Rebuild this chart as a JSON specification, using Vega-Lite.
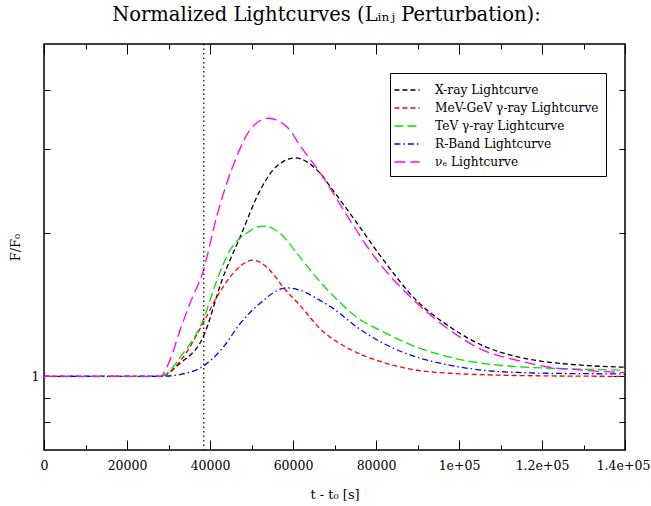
{
  "$schema": "https://vega.github.io/schema/vega-lite/v6.json",
  "width": 581,
  "height": 406,
  "autosize": {"type": "none"},
  "padding": {"left": 44, "top": 44, "right": 26, "bottom": 56},
  "config": {
    "font": "DejaVu Serif",
    "view": {"stroke": "black", "strokeWidth": 1.5},
    "axis": {"grid": false, "domain": false, "tickColor": "black", "tickWidth": 1, "labelColor": "black", "titleColor": "black", "labelFont": "DejaVu Serif", "titleFont": "DejaVu Serif", "titleFontWeight": "normal", "labelFontSize": 12.5, "titleFontSize": 13}
  },
  "title": {"text": "Normalized Lightcurves (Lᵢₙⱼ Perturbation):", "fontSize": 19.5, "font": "DejaVu Serif", "fontWeight": "normal", "offset": 18, "dx": -8, "anchor": "middle", "frame": "group", "color": "black"},
  "data": {"values": [
    {"series": "X-ray Lightcurve", "t": 0, "F": 1.0},
    {"series": "X-ray Lightcurve", "t": 28000, "F": 1.0},
    {"series": "X-ray Lightcurve", "t": 32776, "F": 1.065},
    {"series": "X-ray Lightcurve", "t": 38320, "F": 1.208},
    {"series": "X-ray Lightcurve", "t": 43140, "F": 1.616},
    {"series": "X-ray Lightcurve", "t": 47240, "F": 1.962},
    {"series": "X-ray Lightcurve", "t": 52060, "F": 2.46},
    {"series": "X-ray Lightcurve", "t": 55190, "F": 2.715},
    {"series": "X-ray Lightcurve", "t": 60500, "F": 2.88},
    {"series": "X-ray Lightcurve", "t": 65800, "F": 2.715},
    {"series": "X-ray Lightcurve", "t": 69650, "F": 2.46},
    {"series": "X-ray Lightcurve", "t": 75430, "F": 2.1},
    {"series": "X-ray Lightcurve", "t": 81300, "F": 1.78},
    {"series": "X-ray Lightcurve", "t": 89900, "F": 1.44},
    {"series": "X-ray Lightcurve", "t": 97850, "F": 1.27},
    {"series": "X-ray Lightcurve", "t": 105800, "F": 1.16},
    {"series": "X-ray Lightcurve", "t": 114000, "F": 1.1},
    {"series": "X-ray Lightcurve", "t": 122000, "F": 1.07},
    {"series": "X-ray Lightcurve", "t": 130000, "F": 1.055},
    {"series": "X-ray Lightcurve", "t": 140000, "F": 1.045},
    {"series": "MeV-GeV γ-ray Lightcurve", "t": 0, "F": 1.0},
    {"series": "MeV-GeV γ-ray Lightcurve", "t": 28000, "F": 1.0},
    {"series": "MeV-GeV γ-ray Lightcurve", "t": 33500, "F": 1.097},
    {"series": "MeV-GeV γ-ray Lightcurve", "t": 38320, "F": 1.293},
    {"series": "MeV-GeV γ-ray Lightcurve", "t": 41620, "F": 1.467},
    {"series": "MeV-GeV γ-ray Lightcurve", "t": 44800, "F": 1.616},
    {"series": "MeV-GeV γ-ray Lightcurve", "t": 50400, "F": 1.755},
    {"series": "MeV-GeV γ-ray Lightcurve", "t": 54500, "F": 1.67},
    {"series": "MeV-GeV γ-ray Lightcurve", "t": 57600, "F": 1.54},
    {"series": "MeV-GeV γ-ray Lightcurve", "t": 61700, "F": 1.41},
    {"series": "MeV-GeV γ-ray Lightcurve", "t": 66500, "F": 1.26},
    {"series": "MeV-GeV γ-ray Lightcurve", "t": 73750, "F": 1.14},
    {"series": "MeV-GeV γ-ray Lightcurve", "t": 80980, "F": 1.075},
    {"series": "MeV-GeV γ-ray Lightcurve", "t": 89900, "F": 1.03},
    {"series": "MeV-GeV γ-ray Lightcurve", "t": 97850, "F": 1.015},
    {"series": "MeV-GeV γ-ray Lightcurve", "t": 105800, "F": 1.008},
    {"series": "MeV-GeV γ-ray Lightcurve", "t": 114000, "F": 1.004},
    {"series": "MeV-GeV γ-ray Lightcurve", "t": 140000, "F": 1.0},
    {"series": "TeV γ-ray Lightcurve", "t": 0, "F": 1.0},
    {"series": "TeV γ-ray Lightcurve", "t": 28000, "F": 1.0},
    {"series": "TeV γ-ray Lightcurve", "t": 33500, "F": 1.118},
    {"series": "TeV γ-ray Lightcurve", "t": 38320, "F": 1.312},
    {"series": "TeV γ-ray Lightcurve", "t": 41620, "F": 1.59},
    {"series": "TeV γ-ray Lightcurve", "t": 44800, "F": 1.84},
    {"series": "TeV γ-ray Lightcurve", "t": 48850, "F": 2.0},
    {"series": "TeV γ-ray Lightcurve", "t": 52800, "F": 2.07},
    {"series": "TeV γ-ray Lightcurve", "t": 56880, "F": 2.0},
    {"series": "TeV γ-ray Lightcurve", "t": 60900, "F": 1.816},
    {"series": "TeV γ-ray Lightcurve", "t": 65720, "F": 1.61},
    {"series": "TeV γ-ray Lightcurve", "t": 71340, "F": 1.43},
    {"series": "TeV γ-ray Lightcurve", "t": 75380, "F": 1.331},
    {"series": "TeV γ-ray Lightcurve", "t": 81000, "F": 1.25},
    {"series": "TeV γ-ray Lightcurve", "t": 89900, "F": 1.151},
    {"series": "TeV γ-ray Lightcurve", "t": 97850, "F": 1.097},
    {"series": "TeV γ-ray Lightcurve", "t": 105800, "F": 1.065},
    {"series": "TeV γ-ray Lightcurve", "t": 114000, "F": 1.048},
    {"series": "TeV γ-ray Lightcurve", "t": 122000, "F": 1.04},
    {"series": "TeV γ-ray Lightcurve", "t": 130000, "F": 1.035},
    {"series": "TeV γ-ray Lightcurve", "t": 140000, "F": 1.03},
    {"series": "R-Band Lightcurve", "t": 0, "F": 1.0},
    {"series": "R-Band Lightcurve", "t": 28000, "F": 1.0},
    {"series": "R-Band Lightcurve", "t": 33000, "F": 1.01},
    {"series": "R-Band Lightcurve", "t": 38320, "F": 1.05},
    {"series": "R-Band Lightcurve", "t": 43140, "F": 1.15},
    {"series": "R-Band Lightcurve", "t": 47240, "F": 1.29},
    {"series": "R-Band Lightcurve", "t": 52060, "F": 1.425},
    {"series": "R-Band Lightcurve", "t": 58500, "F": 1.535},
    {"series": "R-Band Lightcurve", "t": 61700, "F": 1.517},
    {"series": "R-Band Lightcurve", "t": 66500, "F": 1.445},
    {"series": "R-Band Lightcurve", "t": 69650, "F": 1.39},
    {"series": "R-Band Lightcurve", "t": 75380, "F": 1.27},
    {"series": "R-Band Lightcurve", "t": 81700, "F": 1.174},
    {"series": "R-Band Lightcurve", "t": 89900, "F": 1.097},
    {"series": "R-Band Lightcurve", "t": 97850, "F": 1.055},
    {"series": "R-Band Lightcurve", "t": 105800, "F": 1.03},
    {"series": "R-Band Lightcurve", "t": 114000, "F": 1.019},
    {"series": "R-Band Lightcurve", "t": 122000, "F": 1.015},
    {"series": "R-Band Lightcurve", "t": 140000, "F": 1.012},
    {"series": "νₑ Lightcurve", "t": 0, "F": 1.0},
    {"series": "νₑ Lightcurve", "t": 28000, "F": 1.0},
    {"series": "νₑ Lightcurve", "t": 30500, "F": 1.09},
    {"series": "νₑ Lightcurve", "t": 32776, "F": 1.25},
    {"series": "νₑ Lightcurve", "t": 35186, "F": 1.425},
    {"series": "νₑ Lightcurve", "t": 38400, "F": 1.67},
    {"series": "νₑ Lightcurve", "t": 41620, "F": 2.17},
    {"series": "νₑ Lightcurve", "t": 46440, "F": 2.9},
    {"series": "νₑ Lightcurve", "t": 49650, "F": 3.3},
    {"series": "νₑ Lightcurve", "t": 54000, "F": 3.49},
    {"series": "νₑ Lightcurve", "t": 58500, "F": 3.35},
    {"series": "νₑ Lightcurve", "t": 62000, "F": 3.03},
    {"series": "νₑ Lightcurve", "t": 66800, "F": 2.66},
    {"series": "νₑ Lightcurve", "t": 73000, "F": 2.18},
    {"series": "νₑ Lightcurve", "t": 79300, "F": 1.8},
    {"series": "νₑ Lightcurve", "t": 89900, "F": 1.425},
    {"series": "νₑ Lightcurve", "t": 97850, "F": 1.25},
    {"series": "νₑ Lightcurve", "t": 105800, "F": 1.135},
    {"series": "νₑ Lightcurve", "t": 114000, "F": 1.081},
    {"series": "νₑ Lightcurve", "t": 122000, "F": 1.045},
    {"series": "νₑ Lightcurve", "t": 130000, "F": 1.03},
    {"series": "νₑ Lightcurve", "t": 140000, "F": 1.018}
  ]},
  "layer": [
    {
      "mark": {"type": "line", "strokeWidth": 1.3, "interpolate": "monotone", "clip": true},
      "encoding": {
        "x": {"field": "t", "type": "quantitative", "scale": {"domain": [0, 140000], "nice": false, "zero": false},
          "axis": {"orient": "bottom", "values": [0, 10000, 20000, 30000, 40000, 50000, 60000, 70000, 80000, 90000, 100000, 110000, 120000, 130000, 140000],
            "tickSize": {"condition": {"test": "datum.value % 20000 === 0", "value": -10}, "value": -5},
            "labelOffset": {"condition": {"test": "datum.value == 140000", "value": -2}, "value": 0},
            "labelExpr": "datum.value % 20000 !== 0 ? '' : datum.value == 100000 ? '1e+05' : datum.value == 120000 ? '1.2e+05' : datum.value == 140000 ? '1.4e+05' : format(datum.value, 'd')",
            "labelPadding": 19, "labelFlush": false, "labelOverlap": false, "title": "t - t₀ [s]", "titlePadding": 12}},
        "y": {"field": "F", "type": "quantitative", "scale": {"type": "log", "domain": [0.7, 5], "nice": false, "zero": false},
          "axis": {"orient": "left", "values": [0.8, 0.9, 1, 2, 3, 4],
            "tickSize": {"condition": {"test": "datum.value == 1", "value": -12}, "value": -6},
            "labelExpr": "datum.value == 1 ? '1' : ''", "labelPadding": 17, "labelOverlap": false, "title": "F/F₀", "titlePadding": 9}},
        "color": {"field": "series", "type": "nominal",
          "scale": {"domain": ["X-ray Lightcurve", "MeV-GeV γ-ray Lightcurve", "TeV γ-ray Lightcurve", "R-Band Lightcurve", "νₑ Lightcurve"], "range": ["#000000", "#ff0000", "#00e000", "#0000ff", "#ff00ff"]},
          "legend": {"orient": "none", "legendX": 346, "legendY": 29, "title": null, "symbolType": "M-1.4,0H1.4", "symbolSize": 324, "symbolStrokeWidth": 1.3, "symbolFillColor": "transparent", "strokeColor": "black", "fillColor": "white", "padding": 7, "labelFontSize": 12.2, "labelFont": "DejaVu Serif", "labelColor": "black", "rowPadding": 1, "labelOffset": 18, "labelLimit": 400}},
        "strokeDash": {"field": "series", "type": "nominal",
          "scale": {"domain": ["X-ray Lightcurve", "MeV-GeV γ-ray Lightcurve", "TeV γ-ray Lightcurve", "R-Band Lightcurve", "νₑ Lightcurve"], "range": [[5, 3], [5, 3], [9, 4], [6, 3, 1.5, 3], [11, 5]]},
          "legend": {"orient": "none", "legendX": 346, "legendY": 29, "title": null, "symbolType": "M-1.4,0H1.4", "symbolSize": 324, "symbolStrokeWidth": 1.3, "symbolFillColor": "transparent", "strokeColor": "black", "fillColor": "white", "padding": 7, "labelFontSize": 12.2, "labelFont": "DejaVu Serif", "labelColor": "black", "rowPadding": 1, "labelOffset": 18, "labelLimit": 400}}
      }
    },
    {
      "data": {"values": [{"t": 38500}]},
      "mark": {"type": "rule", "color": "black", "strokeWidth": 1.2, "strokeDash": [1.5, 3]},
      "encoding": {"x": {"field": "t", "type": "quantitative", "axis": null}}
    },
    {
      "mark": {"type": "line", "opacity": 0},
      "encoding": {
        "x": {"field": "t", "type": "quantitative",
          "axis": {"orient": "top", "values": [0, 10000, 20000, 30000, 40000, 50000, 60000, 70000, 80000, 90000, 100000, 110000, 120000, 130000, 140000],
            "tickSize": {"condition": {"test": "datum.value % 20000 === 0", "value": -10}, "value": -5}, "labels": false, "title": null}},
        "y": {"field": "F", "type": "quantitative",
          "axis": {"orient": "right", "values": [0.8, 0.9, 1, 2, 3, 4],
            "tickSize": {"condition": {"test": "datum.value == 1", "value": -12}, "value": -6}, "labels": false, "title": null}},
        "detail": {"field": "series"}
      }
    }
  ],
  "resolve": {"axis": {"x": "independent", "y": "independent"}}
}
